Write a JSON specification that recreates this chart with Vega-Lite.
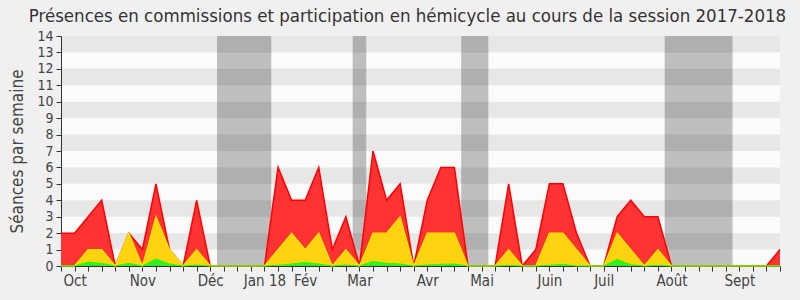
{
  "$schema": "https://vega.github.io/schema/vega-lite/v6.json",
  "width": 719,
  "height": 230,
  "autosize": "none",
  "padding": {"left": 61, "top": 36, "right": 20, "bottom": 34},
  "background": "#f0f0f0",
  "view": {"fill": "#fbfbfb", "stroke": null},
  "config": {
    "font": "DejaVu Sans Condensed",
    "axisX": {
      "labelOverlap": false,
      "labelFlush": false,
      "labelFontSize": 15,
      "labelColor": "#444444",
      "labelPadding": 2,
      "tickSize": 5,
      "tickColor": "#333333",
      "domainColor": "#333333",
      "grid": false
    },
    "axisY": {
      "labelOverlap": false,
      "labelFontSize": 14,
      "labelColor": "#444444",
      "labelPadding": 3,
      "tickSize": 5,
      "tickColor": "#333333",
      "domainColor": "#333333",
      "grid": false,
      "titleFontSize": 17,
      "titleFontWeight": "normal",
      "titleColor": "#444444",
      "titlePadding": 10
    }
  },
  "title": {
    "text": "Présences en commissions et participation en hémicycle au cours de la session 2017-2018",
    "fontSize": 18.5,
    "fontWeight": "normal",
    "color": "#333333",
    "font": "DejaVu Sans Condensed",
    "anchor": "middle",
    "dx": -13,
    "offset": 4
  },
  "datasets": {
    "weeks": [
      {"w": 0, "red": 2, "yellow": 0, "green": 0},
      {"w": 1, "red": 2, "yellow": 0, "green": 0},
      {"w": 2, "red": 3, "yellow": 1, "green": 0.24},
      {"w": 3, "red": 4, "yellow": 1, "green": 0.16},
      {"w": 4, "red": 0, "yellow": 0, "green": 0},
      {"w": 5, "red": 2, "yellow": 2, "green": 0.16},
      {"w": 6, "red": 1, "yellow": 0, "green": 0},
      {"w": 7, "red": 5, "yellow": 3, "green": 0.43},
      {"w": 8, "red": 1, "yellow": 1, "green": 0.12},
      {"w": 9, "red": 0, "yellow": 0, "green": 0},
      {"w": 10, "red": 4, "yellow": 1, "green": 0.06},
      {"w": 11, "red": 0, "yellow": 0, "green": 0},
      {"w": 12, "red": 0, "yellow": 0, "green": 0},
      {"w": 13, "red": 0, "yellow": 0, "green": 0},
      {"w": 14, "red": 0, "yellow": 0, "green": 0},
      {"w": 15, "red": 0, "yellow": 0, "green": 0},
      {"w": 16, "red": 6, "yellow": 1, "green": 0.04},
      {"w": 17, "red": 4, "yellow": 2, "green": 0.12},
      {"w": 18, "red": 4, "yellow": 1, "green": 0.22},
      {"w": 19, "red": 6, "yellow": 2, "green": 0.12},
      {"w": 20, "red": 1, "yellow": 0, "green": 0},
      {"w": 21, "red": 3, "yellow": 1, "green": 0.06},
      {"w": 22, "red": 0, "yellow": 0, "green": 0},
      {"w": 23, "red": 7, "yellow": 2, "green": 0.28},
      {"w": 24, "red": 4, "yellow": 2, "green": 0.16},
      {"w": 25, "red": 5, "yellow": 3, "green": 0.12},
      {"w": 26, "red": 0, "yellow": 0, "green": 0},
      {"w": 27, "red": 4, "yellow": 2, "green": 0.06},
      {"w": 28, "red": 6, "yellow": 2, "green": 0.1},
      {"w": 29, "red": 6, "yellow": 2, "green": 0.12},
      {"w": 30, "red": 0, "yellow": 0, "green": 0},
      {"w": 31, "red": 0, "yellow": 0, "green": 0},
      {"w": 32, "red": 0, "yellow": 0, "green": 0},
      {"w": 33, "red": 5, "yellow": 1, "green": 0.04},
      {"w": 34, "red": 0, "yellow": 0, "green": 0},
      {"w": 35, "red": 1, "yellow": 0, "green": 0},
      {"w": 36, "red": 5, "yellow": 2, "green": 0.04},
      {"w": 37, "red": 5, "yellow": 2, "green": 0.1},
      {"w": 38, "red": 2, "yellow": 1, "green": 0},
      {"w": 39, "red": 0, "yellow": 0, "green": 0},
      {"w": 40, "red": 0, "yellow": 0, "green": 0},
      {"w": 41, "red": 3, "yellow": 2, "green": 0.4},
      {"w": 42, "red": 4, "yellow": 1, "green": 0.08},
      {"w": 43, "red": 3, "yellow": 0, "green": 0},
      {"w": 44, "red": 3, "yellow": 1, "green": 0.04},
      {"w": 45, "red": 0, "yellow": 0, "green": 0},
      {"w": 46, "red": 0, "yellow": 0, "green": 0},
      {"w": 47, "red": 0, "yellow": 0, "green": 0},
      {"w": 48, "red": 0, "yellow": 0, "green": 0},
      {"w": 49, "red": 0, "yellow": 0, "green": 0},
      {"w": 50, "red": 0, "yellow": 0, "green": 0},
      {"w": 51, "red": 0, "yellow": 0, "green": 0},
      {"w": 52, "red": 0, "yellow": 0, "green": 0},
      {"w": 53, "red": 1, "yellow": 0, "green": 0}
    ],
    "vac": [
      {"start": 11.5, "end": 15.5},
      {"start": 21.5, "end": 22.5},
      {"start": 29.5, "end": 31.5},
      {"start": 44.5, "end": 49.5}
    ],
    "stripes": [
      {"lo": 1, "hi": 2}, {"lo": 3, "hi": 4}, {"lo": 5, "hi": 6},
      {"lo": 7, "hi": 8}, {"lo": 9, "hi": 10}, {"lo": 11, "hi": 12},
      {"lo": 13, "hi": 14}
    ]
  },
  "layer": [
    {
      "data": {"name": "vac"},
      "mark": {"type": "rect", "color": "#bebebe"},
      "encoding": {
        "x": {
          "field": "start", "type": "quantitative",
          "scale": {"domain": [0, 53], "nice": false, "zero": false},
          "axis": {
            "values": [0,1,2,3,4,5,6,7,8,9,10,11,12,13,14,15,16,17,18,19,20,21,22,23,24,25,26,27,28,29,30,31,32,33,34,35,36,37,38,39,40,41,42,43,44,45,46,47,48,49,50,51,52,53],
            "labelExpr": "datum.value==1?'Oct':datum.value==6?'Nov':datum.value==11?'Déc':datum.value==15?'Jan 18':datum.value==18?'Fév':datum.value==22?'Mar':datum.value==27?'Avr':datum.value==31?'Mai':datum.value==36?'Juin':datum.value==40?'Juil':datum.value==45?'Août':datum.value==50?'Sept':''",
            "title": null
          }
        },
        "x2": {"field": "end"}
      }
    },
    {
      "data": {"name": "stripes"},
      "mark": {"type": "rect", "color": "#000000", "opacity": 0.08},
      "encoding": {
        "y": {
          "field": "lo", "type": "quantitative",
          "scale": {"domain": [0, 14], "nice": false},
          "axis": {"values": [0,1,2,3,4,5,6,7,8,9,10,11,12,13,14], "title": "Séances par semaine"}
        },
        "y2": {"field": "hi"}
      }
    },
    {
      "data": {"name": "weeks"},
      "mark": {"type": "area", "color": "#ff3333", "opacity": 1, "line": {"color": "#ff0000", "strokeWidth": 1.5}},
      "encoding": {
        "x": {"field": "w", "type": "quantitative", "axis": {"values": [0,1,2,3,4,5,6,7,8,9,10,11,12,13,14,15,16,17,18,19,20,21,22,23,24,25,26,27,28,29,30,31,32,33,34,35,36,37,38,39,40,41,42,43,44,45,46,47,48,49,50,51,52,53], "labelExpr": "datum.value==1?'Oct':datum.value==6?'Nov':datum.value==11?'Déc':datum.value==15?'Jan 18':datum.value==18?'Fév':datum.value==22?'Mar':datum.value==27?'Avr':datum.value==31?'Mai':datum.value==36?'Juin':datum.value==40?'Juil':datum.value==45?'Août':datum.value==50?'Sept':''", "title": null}},
        "y": {"field": "red", "type": "quantitative", "stack": null, "axis": {"values": [0,1,2,3,4,5,6,7,8,9,10,11,12,13,14], "title": "Séances par semaine"}}
      }
    },
    {
      "data": {"name": "weeks"},
      "mark": {"type": "area", "color": "#ffd30f", "opacity": 1, "line": {"color": "#ffe800", "strokeWidth": 1.2}},
      "encoding": {
        "x": {"field": "w", "type": "quantitative", "axis": {"values": [0,1,2,3,4,5,6,7,8,9,10,11,12,13,14,15,16,17,18,19,20,21,22,23,24,25,26,27,28,29,30,31,32,33,34,35,36,37,38,39,40,41,42,43,44,45,46,47,48,49,50,51,52,53], "labelExpr": "datum.value==1?'Oct':datum.value==6?'Nov':datum.value==11?'Déc':datum.value==15?'Jan 18':datum.value==18?'Fév':datum.value==22?'Mar':datum.value==27?'Avr':datum.value==31?'Mai':datum.value==36?'Juin':datum.value==40?'Juil':datum.value==45?'Août':datum.value==50?'Sept':''", "title": null}},
        "y": {"field": "yellow", "type": "quantitative", "stack": null, "axis": {"values": [0,1,2,3,4,5,6,7,8,9,10,11,12,13,14], "title": "Séances par semaine"}}
      }
    },
    {
      "data": {"name": "weeks"},
      "mark": {"type": "area", "color": "#33ee22", "opacity": 1, "line": {"color": "#22ff00", "strokeWidth": 1}},
      "encoding": {
        "x": {"field": "w", "type": "quantitative", "axis": {"values": [0,1,2,3,4,5,6,7,8,9,10,11,12,13,14,15,16,17,18,19,20,21,22,23,24,25,26,27,28,29,30,31,32,33,34,35,36,37,38,39,40,41,42,43,44,45,46,47,48,49,50,51,52,53], "labelExpr": "datum.value==1?'Oct':datum.value==6?'Nov':datum.value==11?'Déc':datum.value==15?'Jan 18':datum.value==18?'Fév':datum.value==22?'Mar':datum.value==27?'Avr':datum.value==31?'Mai':datum.value==36?'Juin':datum.value==40?'Juil':datum.value==45?'Août':datum.value==50?'Sept':''", "title": null}},
        "y": {"field": "green", "type": "quantitative", "stack": null, "axis": {"values": [0,1,2,3,4,5,6,7,8,9,10,11,12,13,14], "title": "Séances par semaine"}}
      }
    }
  ]
}
